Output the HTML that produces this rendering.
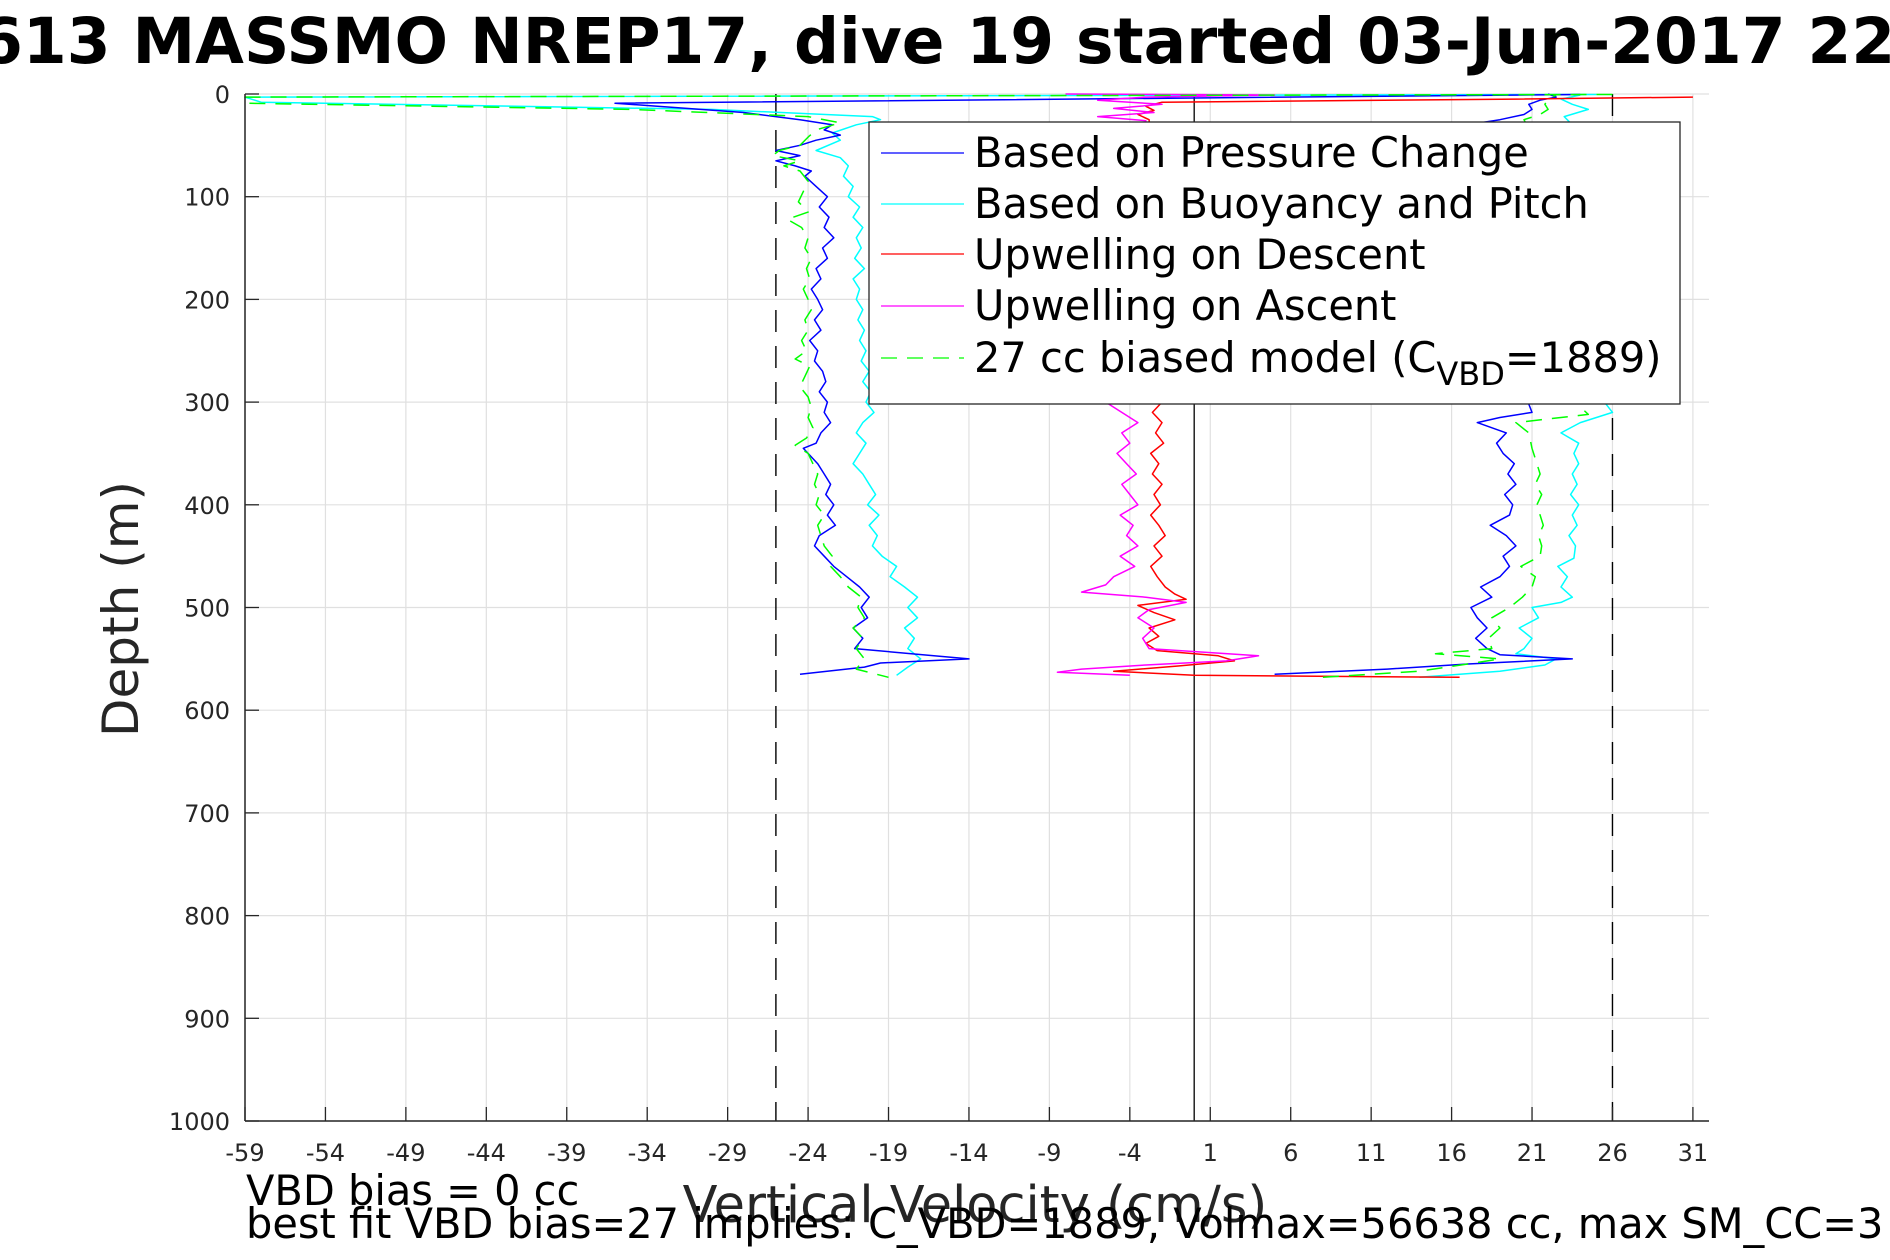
<!DOCTYPE html>
<html><head><meta charset="utf-8"><style>
html,body{margin:0;padding:0;background:#fff;}
svg{display:block;font-family:"DejaVu Sans","Liberation Sans",sans-serif;}
</style></head><body>
<svg id="chart" width="1890" height="1260" viewBox="0 0 1890 1260" xmlns="http://www.w3.org/2000/svg">
<text x="945" y="63" text-anchor="middle" font-size="63" font-weight="bold" fill="#000">SG613 MASSMO NREP17, dive 19 started 03-Jun-2017 22:57</text>
<g id="grid"></g>
<g id="refs"></g>
<g id="series"></g>
<g id="axes"></g>
<g>
<rect x="869" y="122" width="811" height="282" fill="#fff" stroke="#262626" stroke-width="1.3"/>
<line x1="881" y1="153" x2="964" y2="153" stroke="#0000ff" stroke-width="1.3"/>
<text x="974" y="167" font-size="41.5">Based on Pressure Change</text>
<line x1="881" y1="204" x2="964" y2="204" stroke="#00ffff" stroke-width="1.3"/>
<text x="974" y="218" font-size="41.5">Based on Buoyancy and Pitch</text>
<line x1="881" y1="254" x2="964" y2="254" stroke="#ff0000" stroke-width="1.3"/>
<text x="974" y="269" font-size="41.5">Upwelling on Descent</text>
<line x1="881" y1="306" x2="964" y2="306" stroke="#ff00ff" stroke-width="1.3"/>
<text x="974" y="320" font-size="41.5">Upwelling on Ascent</text>
<line x1="881" y1="358" x2="964" y2="358" stroke="#00ff00" stroke-width="1.3" stroke-dasharray="16,10"/>
<text x="974" y="372" font-size="41.5">27 cc biased model (C<tspan font-size="32" dy="13">VBD</tspan><tspan dy="-13">=1889)</tspan></text>
</g>
<text transform="translate(138,609) rotate(-90)" text-anchor="middle" font-size="50" fill="#262626">Depth (m)</text>
<text x="975" y="1222" text-anchor="middle" font-size="51" fill="#262626">Vertical Velocity (cm/s)</text>
<text x="246" y="1205" font-size="41.5" fill="#000">VBD bias = 0 cc</text>
<text x="246" y="1238" font-size="41.5" fill="#000">best fit VBD bias=27 implies: C_VBD=1889, Volmax=56638 cc, max SM_CC=3</text>
</svg>
<script>
const xTicks=[-59,-54,-49,-44,-39,-34,-29,-24,-19,-14,-9,-4,1,6,11,16,21,26,31];
const yTicks=[0,100,200,300,400,500,600,700,800,900,1000];
const refLines=[-26,26];
const zeroLine=[0];
const blueDesc=[[0.5,24],[9,-36],[18,-28],[25,-24.5],[30,-22.5],[35,-23],[40,-22],[45,-23.5],[50,-24.5],[55,-26],[60,-24.5],[65,-26],[70,-24.8],[75,-23.8],[80,-24.2],[90,-23.5],[100,-22.8],[110,-23.3],[120,-22.7],[130,-23],[140,-22.4],[150,-23.1],[160,-22.8],[170,-23.5],[180,-23.2],[190,-23.8],[200,-23.4],[210,-23.1],[220,-23.6],[230,-23.2],[240,-23.9],[250,-23.4],[260,-23.6],[270,-23.1],[280,-22.9],[290,-23.3],[300,-22.8],[310,-23],[320,-22.6],[330,-23.2],[340,-23.5],[345,-24.3],[360,-23.4],[370,-23],[380,-22.6],[390,-22.9],[400,-22.4],[410,-22.8],[420,-22.3],[430,-23.3],[440,-23.6],[450,-23],[460,-22.4],[470,-21.6],[480,-20.8],[490,-20.2],[500,-20.7],[510,-20.3],[520,-21.2],[530,-20.6],[540,-21.1],[550,-14],[554,-19.5],[558,-20.5],[565,-24.5]];
const blueAsc=[[565,5],[560,12],[555,17],[550,23.5],[546,19],[540,18.2],[530,17.5],[520,18.2],[510,17.6],[500,17.2],[490,18.5],[480,17.8],[470,19],[460,19.6],[450,19.2],[440,20],[430,19.4],[420,18.4],[410,19.6],[400,19.8],[390,19.3],[380,20],[370,19.5],[360,19.9],[350,19.2],[340,18.8],[330,19.4],[320,17.6],[315,19],[310,21],[290,20.5],[250,20],[200,20.5],[150,20],[100,20.5],[60,19.5],[40,18.5],[30,17],[25,19],[20,20.5],[15,21],[10,20.8],[6,21.5],[3,22.5],[0,22]];
const cyanDesc=[[0.5,25],[3,-59],[8,-58],[15,-30],[22,-20],[25,-19.5],[30,-21],[38,-22.5],[45,-22],[55,-23.5],[62,-22],[70,-21.5],[80,-21.8],[90,-21.2],[100,-21.5],[110,-20.8],[120,-21.2],[130,-20.6],[140,-21],[150,-20.7],[160,-21.1],[170,-20.5],[180,-21.2],[190,-20.8],[200,-21],[210,-20.6],[220,-20.9],[230,-20.5],[240,-20.8],[250,-20.4],[260,-20.7],[270,-20.2],[280,-20.6],[290,-20.1],[300,-20.4],[310,-19.9],[320,-20.6],[330,-21],[340,-20.4],[350,-20.8],[360,-21.2],[370,-20.6],[380,-20.2],[390,-19.8],[400,-20.3],[410,-19.6],[420,-20.2],[430,-19.7],[440,-20],[450,-19.4],[460,-18.5],[470,-18.9],[480,-18],[490,-17.2],[500,-17.8],[510,-17.2],[520,-18],[530,-17.4],[540,-17.8],[550,-17],[558,-17.8],[566,-18.5]];
const cyanAsc=[[568,14],[562,19],[556,21.8],[550,22.5],[545,20],[540,20.5],[530,21],[520,20.2],[510,21.4],[500,21],[495,22.8],[490,23.5],[480,22.8],[470,23.2],[460,22.6],[452,23.6],[440,23.7],[430,23.3],[420,23.8],[410,23.5],[400,23.9],[390,23.4],[380,23.8],[370,23.5],[360,23.9],[350,23.6],[340,23.9],[330,22.8],[320,24],[315,25],[310,26],[290,25],[200,24],[100,24],[30,23.5],[22,23],[15,24.5],[10,23.5],[5,22.8],[1,24]];
const redDesc=[[3,31],[5,20],[8,-2],[12,-3],[16,-2.5],[20,-3.5],[25,-2.8],[300,-2],[310,-2.6],[320,-2],[330,-2.4],[340,-1.9],[350,-2.7],[360,-2.2],[370,-2.6],[380,-2],[390,-2.5],[400,-2.1],[410,-2.7],[420,-2.2],[430,-1.8],[440,-2.5],[450,-2],[460,-2.7],[470,-2.3],[480,-1.8],[487,-1.2],[492,-0.5],[498,-3.5],[505,-2.5],[512,-1.2],[520,-2.8],[528,-2.2],[535,-3],[542,-2.3],[547,1.5],[552,2.5],[557,-1],[562,-5],[566,0],[568,16.5]];
const magentaAsc=[[0,-8],[1,5],[3,-3],[6,-6],[10,-2],[14,-5],[18,-2.5],[22,-6],[26,-3],[300,-5.5],[310,-4.5],[320,-3.5],[330,-4.5],[340,-4],[350,-4.8],[360,-4.2],[370,-3.6],[380,-4.5],[390,-4],[400,-3.5],[410,-4.6],[420,-3.8],[430,-4.2],[440,-3.5],[450,-4.6],[460,-3.7],[470,-5],[478,-5.5],[485,-7],[490,-3],[495,-0.5],[502,-2.8],[510,-3.5],[520,-2.5],[530,-3.2],[540,-2.8],[547,4],[552,2],[556,-3],[560,-7],[563,-8.5],[566,-4]];
const greenDesc=[[0.5,26],[3,-59],[9,-59],[15,-35],[22,-24],[28,-22],[35,-23.5],[42,-24],[50,-24.5],[55,-25.8],[60,-26.2],[65,-24.5],[70,-25.5],[75,-24.5],[85,-24],[95,-24.3],[105,-24.6],[115,-24],[122,-25.3],[130,-24.4],[140,-24],[150,-24.2],[160,-23.8],[170,-24.1],[180,-23.9],[190,-24.3],[200,-24],[210,-23.8],[220,-24.2],[230,-24],[240,-24.4],[250,-24.1],[258,-24.8],[265,-23.9],[275,-24.2],[285,-24.5],[295,-24],[305,-23.8],[315,-24],[325,-23.7],[335,-24.1],[342,-24.8],[350,-24],[360,-23.7],[370,-23.4],[380,-23.6],[390,-23.3],[400,-23.5],[410,-23],[420,-23.4],[430,-23.2],[440,-23],[450,-22.5],[460,-22.6],[470,-22],[480,-21.5],[490,-20.7],[500,-20.9],[510,-20.5],[520,-21.2],[530,-20.6],[540,-21],[550,-20.5],[560,-21],[568,-19]];
const greenAsc=[[568,8],[562,14],[555,17],[550,19],[545,15],[540,18.5],[530,18.3],[520,19],[510,18.5],[500,19.6],[490,20.4],[480,21],[470,21.2],[460,20.3],[450,21.5],[440,21.6],[430,21.4],[420,21.7],[410,21.5],[400,21.3],[390,21.6],[380,21.2],[370,21.5],[360,21.3],[345,21],[330,20.8],[320,20],[312,24.5],[290,23],[200,22],[100,21.5],[40,21],[25,20.5],[20,21.5],[15,22],[10,21.8],[5,22],[1,22.5]];

const NS="http://www.w3.org/2000/svg";
const L=245,R=1709,T=94,B=1121,XMIN=-59,XMAX=32,YMIN=0,YMAX=1000;
function sx(v){return L+(v-XMIN)/(XMAX-XMIN)*(R-L);}
function sy(d){return T+(d-YMIN)/(YMAX-YMIN)*(B-T);}
function mk(tag,parent,attrs){const e=document.createElementNS(NS,tag);for(const k in attrs)e.setAttribute(k,attrs[k]);parent.appendChild(e);return e;}
const grid=document.getElementById('grid'),axes=document.getElementById('axes'),refs=document.getElementById('refs'),ser=document.getElementById('series');
xTicks.forEach(v=>{
 const g=mk('line',grid,{x1:sx(v),x2:sx(v),y1:T,y2:B,stroke:'#e0e0e0','stroke-width':1.2});
 
 
 const t=mk('line',axes,{x1:sx(v),x2:sx(v),y1:B,y2:B-14,stroke:'#262626','stroke-width':1.3});
 
 
 const lb=mk('text',axes,{x:sx(v),y:B+40,'text-anchor':'middle','font-size':24,fill:'#262626'});
 lb.textContent=v;
 
 
});
yTicks.forEach(v=>{
 const g=mk('line',grid,{x1:L,x2:R,y1:sy(v),y2:sy(v),stroke:'#e0e0e0','stroke-width':1.2});
 
 
 const t=mk('line',axes,{x1:L,x2:L+14,y1:sy(v),y2:sy(v),stroke:'#262626','stroke-width':1.3});
 
 
 const lb=mk('text',axes,{x:L-15,y:sy(v)+9,'text-anchor':'end','font-size':24,fill:'#262626'});
 lb.textContent=v;
 
 
});
const al=mk('line',axes,{x1:L,x2:L,y1:T,y2:B,stroke:'#262626','stroke-width':1.5});


const bl=mk('line',axes,{x1:L,x2:R,y1:B,y2:B,stroke:'#262626','stroke-width':1.5});


refLines.forEach(v=>{
 const r=mk('line',refs,{x1:sx(v),x2:sx(v),y1:T,y2:B,stroke:'#000','stroke-width':1.4,'stroke-dasharray':'22,14'});
 
 
});
zeroLine.forEach(v=>{
 const z=mk('line',refs,{x1:sx(v),x2:sx(v),y1:T,y2:B,stroke:'#000','stroke-width':1.3});
 
 
});
function draw(data,color,name,dash){
 const pts=data.map(p=>sx(p[1]).toFixed(1)+','+sy(p[0]).toFixed(1)).join(' ');
 const a={points:pts,fill:'none',stroke:color,'stroke-width':1.5,'stroke-linejoin':'round'};
 if(dash)a['stroke-dasharray']=dash;
 const pl=mk('polyline',ser,a);
 
 
}
draw(cyanDesc,'#00ffff','buoyancy-descent-line');
draw(cyanAsc,'#00ffff','buoyancy-ascent-line');
draw(blueDesc,'#0000ff','pressure-descent-line');
draw(blueAsc,'#0000ff','pressure-ascent-line');
draw(redDesc,'#ff0000','upwelling-descent-line');
draw(magentaAsc,'#ff00ff','upwelling-ascent-line');
draw(greenDesc,'#00ff00','model-descent-line','16,10');
draw(greenAsc,'#00ff00','model-ascent-line','16,10');
</script>
</body></html>
